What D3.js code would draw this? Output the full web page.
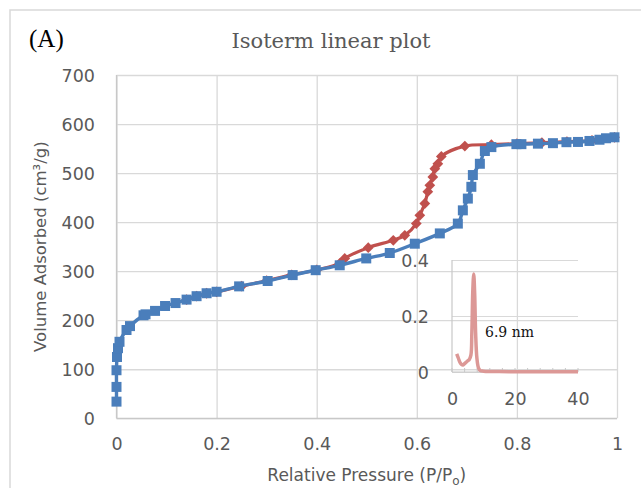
<!DOCTYPE html>
<html>
<head>
<meta charset="utf-8">
<script src="https://cdn.jsdelivr.net/npm/d3@7"></script>
<style>
  body { margin: 0; background: #fff; }
  svg { display: block; }
  .tick text { font-family: "DejaVu Sans", sans-serif; fill: #595959; }
</style>
</head>
<body>
<div id="graf"></div>
<script>
// Data: adsorption branch (blue squares)
const adsP = [0, 0, 0, 0.001, 0.003, 0.006, 0.02, 0.027, 0.054, 0.058, 0.077, 0.097, 0.118, 0.14, 0.16, 0.18, 0.2,
  0.245, 0.302, 0.352, 0.398, 0.446, 0.499, 0.546, 0.596, 0.646, 0.682, 0.692, 0.702, 0.709, 0.712, 0.726,
  0.736, 0.749, 0.799, 0.809, 0.842, 0.872, 0.899, 0.922, 0.945, 0.965, 0.978, 0.995]
const adsV = [34, 64, 98, 125, 143, 156, 180, 188, 210, 212, 219, 229, 235, 242, 249, 255, 258,
  269, 280, 292, 302, 312, 326, 337, 356, 377, 397, 424, 448, 472, 496, 519,
  545, 553, 559, 559, 560, 561, 563, 563.5, 565.5, 568, 571, 573]

// desorption branch (red diamonds)
const desP = [0.995, 0.95, 0.9, 0.85, 0.8, 0.749, 0.696, 0.649, 0.642, 0.636, 0.632, 0.626, 0.622, 0.616,
  0.606, 0.599, 0.576, 0.553, 0.503, 0.456, 0.446, 0.4, 0.35, 0.3, 0.25, 0.2, 0.18, 0.16, 0.14]
const desV = [573, 566.5, 564, 562, 560, 558, 555, 534, 519, 509, 492, 475, 462, 438,
  414, 397, 373, 363, 348, 326, 316, 302.5, 292.5, 280.5, 269.5, 258, 255, 249, 242]

// inset: pore size distribution
const psdW = [1.5, 2, 2.5, 3, 3.5, 4, 4.5, 5, 5.5, 6, 6.3, 6.6, 6.9, 7.2, 7.5, 7.9, 8.4, 9, 10, 12, 15, 20, 25, 30, 35, 40]
const psdV = [0.065, 0.05, 0.035, 0.027, 0.025, 0.03, 0.035, 0.04, 0.045, 0.06, 0.14, 0.29, 0.35, 0.28, 0.14,
  0.05, 0.015, 0.005, 0.003, 0.002, 0.002, 0.001, 0.001, 0.001, 0.001, 0.001]

const xTicks = [0, 0.2, 0.4, 0.6, 0.8, 1]
const yTicks = [0, 100, 200, 300, 400, 500, 600, 700]
const insetXTicks = [0, 20, 40]
const insetYTicks = [0, 0.2, 0.4]

const svg = d3.select("#graf")
  .append("svg")
  .attr("width", 641)
  .attr("height", 488)

// outer chart frame
svg.append("rect")
  .attr("x", 10).attr("y", 10)
  .attr("width", 700).attr("height", 600)
  .attr("fill", "none")
  .attr("stroke", "#d9d9d9")
  .attr("stroke-width", 1.5)

// Escaladores
const x = d3.scaleLinear().domain([0, 1]).range([116.5, 617])
const y = d3.scaleLinear().domain([0, 700]).range([418.3, 75])

const grid = "#d9d9d9"

// vertical grid + x labels
const gx = svg.append("g")
  .attr("transform", `translate(0, ${y(0)})`)
  .call(d3.axisBottom(x).tickValues(xTicks).tickSize(-(y(0) - y(700))).tickFormat(d3.format("~g")))
gx.select(".domain").remove()
gx.selectAll("line").attr("stroke", grid).attr("stroke-width", 1.3)
gx.selectAll("text").attr("y", 32).attr("dy", null).style("font-size", "17.5px")

// horizontal grid + y labels
const gy = svg.append("g")
  .attr("transform", `translate(${x(0)}, 0)`)
  .call(d3.axisLeft(y).tickValues(yTicks).tickSize(-(x(1) - x(0))))
gy.select(".domain").remove()
gy.selectAll("line").attr("stroke", grid).attr("stroke-width", 1.3)
gy.selectAll("text").attr("x", -21.5).attr("dy", "0.35em").style("font-size", "17.5px")

// axis lines
svg.append("line").attr("x1", x(0)).attr("x2", x(0)).attr("y1", y(0)).attr("y2", y(700))
  .attr("stroke", "#c8c8c8").attr("stroke-width", 1.3)
svg.append("line").attr("x1", x(0)).attr("x2", x(1)).attr("y1", y(0)).attr("y2", y(0))
  .attr("stroke", "#c8c8c8").attr("stroke-width", 1.3)

// inset
const xi = d3.scaleLinear().domain([0, 40]).range([452, 578])
const yi = d3.scaleLinear().domain([0, 0.4]).range([372, 260])

const ix = svg.append("g")
  .attr("transform", `translate(0, ${yi(0)})`)
  .call(d3.axisBottom(xi).tickValues(insetXTicks).tickSize(0))
ix.select(".domain").remove()
ix.selectAll("text").attr("y", 33).attr("dy", null).style("font-size", "17.5px")

// small inner ticks every 4
svg.append("g").selectAll("line")
  .data(d3.range(0, 41, 4))
  .join("line")
  .attr("x1", d => xi(d)).attr("x2", d => xi(d))
  .attr("y1", yi(0)).attr("y2", yi(0) - 4)
  .attr("stroke", "#c8c8c8").attr("stroke-width", 1)

const iy = svg.append("g")
  .attr("transform", `translate(${xi(0)}, 0)`)
  .call(d3.axisLeft(yi).tickValues(insetYTicks).tickSize(-(xi(40) - xi(0))).tickFormat(d3.format("~g")))
iy.select(".domain").remove()
iy.selectAll("line").attr("stroke", grid).attr("stroke-width", 1.2)
iy.selectAll("text").attr("x", -23).attr("dy", "0.35em").style("font-size", "17.5px")

svg.append("line").attr("x1", xi(0)).attr("x2", xi(0)).attr("y1", yi(0)).attr("y2", yi(0.4))
  .attr("stroke", "#c8c8c8").attr("stroke-width", 1.2)
svg.append("line").attr("x1", xi(0)).attr("x2", xi(40)).attr("y1", yi(0)).attr("y2", yi(0))
  .attr("stroke", "#c8c8c8").attr("stroke-width", 1.2)

const psd = psdW.map((w, i) => ({ w, v: psdV[i] }))
svg.append("path")
  .datum(psd)
  .attr("fill", "none")
  .attr("stroke", "#dc9896")
  .attr("stroke-width", 3.5)
  .attr("stroke-linejoin", "round")
  .attr("d", d3.line().x(d => xi(d.w)).y(d => yi(d.v)).curve(d3.curveCatmullRom.alpha(0.5)))

svg.append("text")
  .attr("x", 485).attr("y", 337)
  .attr("font-family", "DejaVu Serif")
  .attr("font-size", 14)
  .attr("fill", "#111")
  .text("6.9 nm")

// series
const des = desP.map((p, i) => ({ p, v: desV[i] }))
const ads = adsP.map((p, i) => ({ p, v: adsV[i] }))
const linea = d3.line().x(d => x(d.p)).y(d => y(d.v)).curve(d3.curveCatmullRom.alpha(0.5))

const red = "#c0504d"
const blue = "#4a7ebb"

svg.append("path").datum(des)
  .attr("fill", "none").attr("stroke", red).attr("stroke-width", 3.2).attr("d", linea)
svg.append("g").selectAll("path")
  .data(des)
  .join("path")
  .attr("transform", d => `translate(${x(d.p)}, ${y(d.v)}) rotate(45)`)
  .attr("d", d3.symbol(d3.symbolSquare).size(58))
  .attr("fill", red)

svg.append("path").datum(ads)
  .attr("fill", "none").attr("stroke", blue).attr("stroke-width", 3.4).attr("d", linea)
svg.append("g").selectAll("path")
  .data(ads)
  .join("path")
  .attr("transform", d => `translate(${x(d.p)}, ${y(d.v)})`)
  .attr("d", d3.symbol(d3.symbolSquare).size(100))
  .attr("fill", blue)

// titles
svg.append("text")
  .attr("x", 29).attr("y", 47)
  .attr("font-family", "Liberation Serif")
  .attr("font-size", 25)
  .attr("fill", "#000")
  .text("(A)")

svg.append("text")
  .attr("x", 331).attr("y", 47.5)
  .attr("text-anchor", "middle")
  .attr("font-family", "DejaVu Serif")
  .attr("font-size", 21)
  .attr("fill", "#595959")
  .text("Isoterm linear plot")

svg.append("text")
  .attr("transform", `translate(46, ${(y(0) + y(700)) / 2}) rotate(-90)`)
  .attr("text-anchor", "middle")
  .attr("font-family", "DejaVu Sans")
  .attr("font-size", 16.5)
  .attr("fill", "#595959")
  .text("Volume Adsorbed (cm³/g)")

const xt = svg.append("text")
  .attr("x", (x(0) + x(1)) / 2).attr("y", 481)
  .attr("text-anchor", "middle")
  .attr("font-family", "DejaVu Sans")
  .attr("font-size", 17)
  .attr("fill", "#595959")
xt.append("tspan").text("Relative Pressure (P/P")
xt.append("tspan").attr("font-size", 12).attr("dy", 4).text("o")
xt.append("tspan").attr("dy", -4).text(")")
</script>
</body>
</html>
